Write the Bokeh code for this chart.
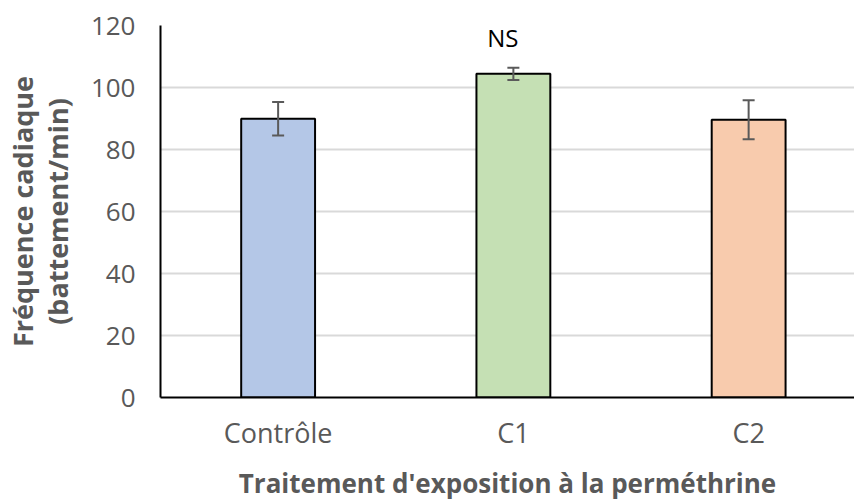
from bokeh.plotting import figure
from bokeh.models import ColumnDataSource, Whisker, TeeHead, FixedTicker, Range1d, Label
from bokeh.embed import file_html
from bokeh.resources import INLINE

# Heart rate per exposure treatment (mean and error)
categories = ["Contrôle", "C1", "C2"]
means = [89.9, 104.4, 89.6]
errors = [5.4, 2.0, 6.3]
colors = ["#b4c7e7", "#c5e0b4", "#f8cbad"]
y_ticks = [0, 20, 40, 60, 80, 100, 120]

FONT = "Open Sans"
GREY = "#595959"

xs = list(range(len(categories)))
src = ColumnDataSource(dict(
    x=xs,
    mean=means,
    upper=[m + e for m, e in zip(means, errors)],
    lower=[m - e for m, e in zip(means, errors)],
    color=colors,
))

p = figure(width=854, height=504, output_backend="svg", toolbar_location=None,
           x_range=Range1d(-0.5, 2.45), y_range=Range1d(0, 120),
           min_border_left=159, min_border_right=0, min_border_top=25,
           min_border_bottom=107)
p.outline_line_color = None
p.background_fill_color = "white"
p.border_fill_color = "white"

p.vbar(x="x", top="mean", bottom=0, width=0.314, source=src,
       fill_color="color", line_color="black", line_width=2)

whisk = Whisker(base="x", upper="upper", lower="lower", source=src,
                line_color="#5a5a5a", line_width=2, level="overlay",
                upper_head=TeeHead(size=12, line_color="#5a5a5a", line_width=2),
                lower_head=TeeHead(size=12, line_color="#5a5a5a", line_width=2))
p.add_layout(whisk)

ns = Label(x=1, y=116.2, text="NS", text_align="center", text_baseline="middle",
           text_font=FONT, text_font_size="24px", text_color="black",
           background_fill_color="white", border_line_color=None,
           padding=dict(left=21, right=42, top=1, bottom=1))
p.add_layout(ns)

# grid
p.xgrid.grid_line_color = None
p.ygrid.grid_line_color = "#d9d9d9"
p.ygrid.grid_line_width = 2

# y axis
p.yaxis.ticker = FixedTicker(ticks=y_ticks)
p.yaxis.axis_line_color = "black"
p.yaxis.axis_line_width = 2
p.yaxis.major_tick_line_color = None
p.yaxis.minor_tick_line_color = None
p.yaxis.major_label_text_font = FONT
p.yaxis.major_label_text_font_size = "26px"
p.yaxis.major_label_text_color = GREY
p.yaxis.major_label_standoff = 19
p.yaxis.axis_label = "Fréquence cadiaque\n(battement/min)"
p.yaxis.axis_label_text_font = FONT
p.yaxis.axis_label_text_font_style = "bold"
p.yaxis.axis_label_text_font_size = "27px"
p.yaxis.axis_label_text_color = GREY
p.yaxis.axis_label_text_line_height = 0.95
p.yaxis.axis_label_standoff = 12

# x axis
p.xaxis.ticker = FixedTicker(ticks=xs)
p.xaxis.major_label_overrides = {i: c for i, c in zip(xs, categories)}
p.xaxis.axis_line_color = "black"
p.xaxis.axis_line_width = 2
p.xaxis.major_tick_line_color = None
p.xaxis.minor_tick_line_color = None
p.xaxis.major_label_text_font = FONT
p.xaxis.major_label_text_font_size = "27px"
p.xaxis.major_label_text_color = GREY
p.xaxis.major_label_standoff = 10
p.xaxis.axis_label = "Traitement d'exposition à la perméthrine"
p.xaxis.axis_label_text_font = FONT
p.xaxis.axis_label_text_font_style = "bold"
p.xaxis.axis_label_text_font_size = "26px"
p.xaxis.axis_label_text_color = GREY
p.xaxis.axis_label_standoff = 11

open("out.html", "w").write(file_html(p, INLINE))
